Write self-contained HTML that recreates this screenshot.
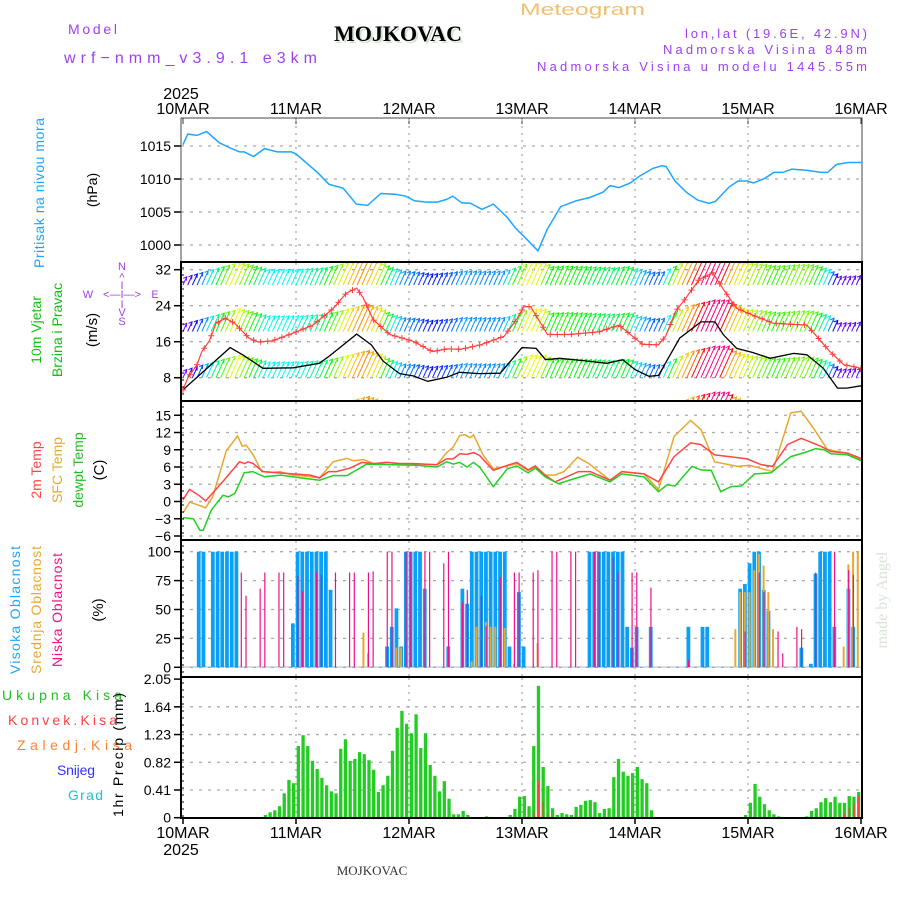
<!DOCTYPE html>
<html><head><meta charset="utf-8"><style>
body{margin:0;background:#fff}
svg{display:block;font-family:"Liberation Sans",sans-serif}
</style></head><body>
<svg id="c" width="900" height="900" viewBox="0 0 900 900" xmlns="http://www.w3.org/2000/svg">
<defs>
<clipPath id="cp1"><rect x="181" y="119" width="681" height="143"/></clipPath>
<clipPath id="cp2"><rect x="181" y="263" width="681" height="137"/></clipPath>
<clipPath id="cp3"><rect x="181" y="402" width="681" height="137"/></clipPath>
</defs>
<text x="520" y="15" font-size="17" fill="#f0c070" textLength="125" lengthAdjust="spacingAndGlyphs">Meteogram</text>
<text x="68" y="34" font-size="14" fill="#a040f0" textLength="49">Model</text>
<text x="400" y="43" font-size="22" font-weight="bold" font-family="Liberation Serif,serif" fill="#cfe3cf" text-anchor="middle">MOJKOVAC</text>
<text x="398" y="41" font-size="22" font-weight="bold" font-family="Liberation Serif,serif" fill="#000" text-anchor="middle">MOJKOVAC</text>
<text x="64" y="63" font-size="16" fill="#a040f0" textLength="253">wrf−nmm_v3.9.1 e3km</text>
<text x="685" y="38" font-size="13" fill="#a040f0" textLength="182">lon,lat (19.6E, 42.9N)</text>
<text x="663" y="54" font-size="13" fill="#a040f0" textLength="204">Nadmorska Visina 848m</text>
<text x="537" y="71" font-size="13" fill="#a040f0" textLength="330">Nadmorska Visina u modelu 1445.55m</text>
<text x="181" y="99" font-size="16" fill="#000" text-anchor="middle">2025</text>
<text x="372" y="875" font-size="13" font-family="Liberation Serif,serif" fill="#333" text-anchor="middle">MOJKOVAC</text>
<text x="181" y="855" font-size="16" fill="#000" text-anchor="middle">2025</text>
<text transform="translate(887,600) rotate(-90)" font-size="16" font-family="Liberation Serif,serif" fill="#d8e4d8" text-anchor="middle">made by Angel</text>
<g id="g"></g>
</svg>
<script>
const dayLabels=["10MAR","11MAR","12MAR","13MAR","14MAR","15MAR","16MAR"];
const presTicks=[1000,1005,1010,1015];
const windTicks=[8,16,24,32];
const tempTicks=[-6,-3,0,3,6,9,12,15];
const cloudTicks=[0,25,50,75,100];
const precTicks=[0,0.41,0.82,1.23,1.64,2.05];

const presH=[0,1,3,5,7.7,10,12,13,15,17.3,20,23,24,28.7,31,34,36.8,39.2,42,45,47.3,49.2,51.6,54,55.9,57.3,59.2,61.1,63.5,65.9,68.7,70.7,73.1,75.4,77.3,80.2,83.5,86.4,89.2,90.7,92.6,95,96.9,99.8,101.7,102.6,104.5,106.9,109.3,111.7,113.1,116,117.9,119.8,121.2,123.6,125.5,127.4,129.3,132.6,135.5,136.9,138.8,141.2,144];
const presV=[1015.2,1016.8,1016.6,1017.2,1015.5,1014.7,1014.1,1014.1,1013.4,1014.6,1014.1,1014.1,1013.8,1010.9,1009.2,1008.6,1006.2,1006.0,1007.8,1007.7,1007.4,1006.7,1006.5,1006.5,1006.9,1007.4,1006.4,1006.3,1005.4,1006.2,1004.3,1002.5,1000.8,999.1,1002.3,1005.8,1006.7,1007.2,1008,1009,1008.7,1009.4,1010.4,1011.6,1012,1011.9,1009.7,1008,1006.8,1006.3,1006.6,1008.8,1009.7,1009.7,1009.4,1010.1,1011,1011,1011.5,1011.3,1011,1011,1012.2,1012.5,1012.5];

const spdH=[0,10,12.8,17,23.4,29,31.2,36.9,40,42.5,46,48.9,52,56,58.7,63,67.4,72,75,77,80,85,90,93.4,96,99,101,105.5,110,113,114.8,117.6,121,124.7,129.7,132.5,136,139,141,144];
const spdV=[5.3,14.7,13,10.1,10.2,11.2,12.9,17.7,15.3,11.7,8.9,8.4,7.2,8.1,9.2,8.9,9.0,14.7,14.5,12.0,12.3,11.8,11.2,12.0,9.8,8.3,8.5,16.8,20.4,20.4,17.5,14.5,13.6,12.3,13.4,13.1,10.1,5.7,5.7,6.2];
const gustH=[0,1,3,4,5.6,7,9,11,14,16,19,23.4,27.6,31.9,34.7,36.9,38.3,40.4,43.9,48.9,53,56,59,63.2,68.2,71,72.4,73.8,76,77.4,82,88.4,92.6,95.5,97.6,101,102.5,104.6,106.8,109.6,112.5,114.8,117.6,121,125.4,132.5,134.6,137.4,140.3,144];
const gustV=[5.3,7.9,10.9,13.8,16.2,20.1,21.2,20.1,16.8,15.9,16.2,17.9,19.7,23.4,26.8,27.9,25.7,20.9,17.6,16.1,13.8,14.4,14.3,15.3,17.2,21.2,23.8,23.8,20.1,17.6,17.6,18.2,19.7,17.2,15.4,15.3,17.2,22.7,25.7,29.8,31.3,27.6,23.4,21.9,20.1,19.7,17.2,13.8,10.9,10.1];

const t2H=[0,1.4,3.5,4.8,6,8.5,12,13.1,13.8,14.9,17,19.8,23.4,27,29,30.9,32.6,35.5,38,40.5,43.3,46,48.9,53.9,56,57.4,58.8,60.3,61.7,63,65.9,68.9,70.9,73.3,74.8,76.9,79,84,86.5,90.7,93.2,97.9,101,104.3,107.8,110,112.9,117.1,119.8,122.8,125.2,128.4,131.3,135.5,137.6,141.2,144];
const t2V=[0.3,2.1,1.0,0.1,1.2,3.5,6.9,6.6,6.9,6.6,5.2,5.0,4.8,4.6,4.1,5.2,5.2,5.8,6.8,6.6,6.8,6.6,6.6,6.4,7.4,7.4,8.3,8.2,8.5,8.0,5.4,6.3,6.8,5.5,6.2,4.6,3.4,5.2,5.2,3.7,5.2,4.8,3.4,7.8,10.2,9.9,8.1,7.7,7.4,6.4,6.1,9.9,11,9.6,8.7,8.4,7.5];
const sfcH=[0,1.4,3.5,4.8,6.3,9.2,11.6,12.6,13.4,14.9,16.7,19.2,20.6,23.4,27,29,31.9,34.8,36.2,38.3,40.5,43.3,46,48.9,53.9,56,57.4,58.8,59.9,61,61.7,63.8,65.9,68.9,70.9,73.3,74.8,76.9,79,80.9,83.8,86.2,90.7,93.2,97.9,101,104.3,107.8,110,112.9,117.8,120.3,125.2,129.1,131.3,134.1,136.9,141.2,144];
const sfcV=[-2,-0.1,-0.7,-1.1,0.8,8.8,11.4,9.6,9.8,8.1,5.2,5.1,5.2,4.6,4.3,4.1,6.9,7.5,7.1,7.3,6.6,6.8,6.6,6.6,6.4,8.5,9.5,11.5,11.6,11.1,11.6,8.0,5.7,6.2,6.6,5.4,6.0,4.6,4.6,5.2,7.7,6.6,3.7,5.2,4.8,2.1,11.3,14.1,12.5,6.9,6.1,6.3,5.2,15.4,15.7,12.5,9.0,8.4,7.3];
const dewH=[0,2.2,3.6,4.3,6,8.5,9.6,11,13,14.8,17.3,20.8,25,29,31.9,34.8,39,44.5,49.6,53.9,56,57.4,58.8,60.3,61.7,63,65.9,68.9,70.9,73.3,74.8,76.9,79.7,84,86.5,90.7,93.2,97.9,101,102.8,104.5,108.1,110,112.2,114.2,116.4,118.6,121.4,124.9,129.1,132,134.4,136.2,137.6,141.2,144];
const dewV=[-2.8,-3.0,-5.0,-5.0,-1.5,1.1,0.8,1.4,5.0,5.2,4.3,4.6,4.1,3.7,4.5,4.5,6.5,6.4,6.3,6.0,6.9,6.5,6.8,6.0,6.8,6.0,2.6,5.7,6.2,5.0,5.8,4.3,3.1,4.2,4.8,3.4,4.8,4.3,1.7,2.9,2.7,6.1,5.5,5.4,1.7,2.6,2.7,4.8,5.0,7.8,8.5,9.2,9.0,8.3,8.1,7.1];

const highHours=[3,4,6,7,8,9,10,11,23,24,25,26,27,28,29,30,31,43,44,45,46,47,48,49,50,51,56,59,60,61,62,63,64,65,66,67,68,69,71,72,86,87,88,89,90,91,92,93,94,95,96,99,107,110,111,118,119,120,121,122,123,124,131,133,134,135,136,137,138,141,142];
const highVals=[100,100,100,100,100,100,100,100,38,100,100,100,100,100,100,100,67,18,35,51,18,100,100,100,100,68,18,68,55,100,100,100,100,100,100,100,100,18,65,18,100,100,100,100,100,100,100,100,35,17,35,35,35,35,35,68,72,90,100,100,67,49,17,3,81,100,100,100,35,68,35];
const midHours=[38,39,45,46,61,62,64,65,66,68,70,75,117,118,119,120,121,122,123,124,125,140,141,142,143];
const midVals=[30,12,17,17,5,35,39,35,35,34,3,21,33,65,65,65,84,98,88,65,33,18,89,100,100];
const lowHours=[12,13,16,17,20,21,24,25,28,29,32,35,36,39,40,43,44,47,48,51,52,55,56,59,60,63,64,67,70,71,74,75,78,79,82,83,87,88,91,92,95,96,99,107,119,122,123,126,127,130,131,134,138,141,142];
const lowVals=[82,62,68,82,82,82,79,66,82,80,82,82,82,82,83,100,100,100,100,100,100,90,100,56,67,62,36,78,82,82,82,84,100,100,100,100,100,100,95,82,82,82,69,6,31,82,65,31,12,35,33,82,100,84,80];

const precHours=[18,19,20,21,22,23,24,25,26,27,28,29,30,31,32,33,34,35,36,37,38,39,40,41,42,43,44,45,46,47,48,49,50,51,52,53,54,55,56,57,58,59,60,61,65,70,71,72,73,74,75,76,77,78,79,80,81,82,83,84,85,86,87,88,89,90,91,92,93,94,95,96,97,98,99,100,120,121,122,123,124,125,126,127,133,134,135,136,137,138,139,140,141,142,143,144];
const precVals=[0.04,0.08,0.11,0.17,0.36,0.56,0.51,1.06,1.22,1.06,0.84,0.72,0.59,0.48,0.39,0.36,1.02,1.16,0.84,0.87,0.97,0.94,0.85,0.71,0.38,0.48,0.62,0.99,1.33,1.58,1.39,1.25,1.53,1.03,1.25,0.78,0.62,0.39,0.54,0.28,0.05,0.05,0.10,0.04,0.02,0.04,0.13,0.31,0.32,0.17,1.06,1.95,0.75,0.47,0.14,0.04,0.07,0.05,0.04,0.16,0.19,0.25,0.26,0.23,0.07,0.13,0.14,0.60,0.87,0.68,0.62,0.66,0.75,0.57,0.51,0.11,0.04,0.22,0.50,0.31,0.20,0.11,0.05,0.02,0.02,0.10,0.14,0.23,0.29,0.23,0.31,0.22,0.22,0.32,0.31,0.38];
const convHours=[41,50,75,76,77,78,141,142,143,144];
const convVals=[0.02,0.02,0.08,0.54,0.23,0.05,0.05,0.14,0.20,0.32];

const NS="http://www.w3.org/2000/svg";
const G=document.getElementById('g');
function el(tag,attrs,parent){const e=document.createElementNS(NS,tag);for(const k in attrs)e.setAttribute(k,attrs[k]);(parent||G).appendChild(e);return e;}
function txt(x,y,s,attrs,parent){const e=el('text',Object.assign({x:x,y:y},attrs),parent);e.textContent=s;return e;}
const X=h=>183+h*113/24;
const yP=p=>146+(1015-p)*6.6;
const yW=v=>377.7-(v-8)*4.5;
const yT=t=>501.5-t*5.75;
const yC=c=>667.3-c*1.156;
const yR=r=>817.7-r*67.6;
const L=181,R=862;

function grid(top,bot,ticks,fy,name,fmt){
  const g=el('g',{});
  
  
  for(let d=1;d<6;d++) el('line',{x1:X(d*24),x2:X(d*24),y1:top,y2:bot,stroke:'#aaa','stroke-width':1.3,'stroke-dasharray':'2,5'},g);
  ticks.forEach(t=>{
    const y=fy(t);
    if(y>top+2&&y<bot-2) el('line',{x1:L,x2:R,y1:y,y2:y,stroke:'#aaa','stroke-width':1.3,'stroke-dasharray':'3,6'},g);
    el('line',{x1:L-7,x2:L,y1:y,y2:y,stroke:'#000','stroke-width':1.5},g);
    const tl=txt(L-10,y+5,fmt?fmt(t):String(t),{'font-size':14,'text-anchor':'end',fill:'#000'},g);
    
    
  });
}
function frame(top,bot,name,thin){
  const f=el('rect',{x:L,y:top,width:R-L,height:bot-top,fill:'none',stroke:thin?'#444':'#000','stroke-width':thin?1:2});
  
  
  if(!thin){for(let y=top+6;y<bot;y+=7) el('line',{x1:L,x2:L+3,y1:y,y2:y,stroke:'#000','stroke-width':1});}
}
function line(hs,vs,fy,color,name,clip,w){
  const p=el('polyline',{points:hs.map((h,i)=>X(h).toFixed(1)+','+fy(vs[i]).toFixed(1)).join(' '),fill:'none',stroke:color,'stroke-width':w||1.5,'clip-path':clip?'url(#'+clip+')':''});
  
  
  return p;
}
function rot(x,y,s,color,name,size,len){
  const a={transform:'translate('+x+','+y+') rotate(-90)','font-size':size||14,fill:color,'text-anchor':'middle'};
  if(len){a.textLength=len;}
  const t=txt(0,0,s,a);
  
  
}
function interp(hs,vs,h){for(let i=1;i<hs.length;i++){if(h<=hs[i]){const f=(h-hs[i-1])/(hs[i]-hs[i-1]);return vs[i-1]+f*(vs[i]-vs[i-1]);}}return vs[vs.length-1];}

dayLabels.forEach((d,i)=>{
  const a=txt(X(i*24),114,d,{'font-size':16,'text-anchor':'middle',fill:'#000'});
  
  
  const b=txt(X(i*24),838,d,{'font-size':16,'text-anchor':'middle',fill:'#000'});
  
  
  el('line',{x1:X(i*24),x2:X(i*24),y1:118,y2:124,stroke:'#333'});
  el('line',{x1:X(i*24),x2:X(i*24),y1:818,y2:824,stroke:'#000','stroke-width':1.5});
});

grid(119,262,presTicks,yP,'pressure');
frame(118,262,'pressure',true);
line(presH,presV,yP,'#1ea5ff','pressure-line','cp1');
rot(44,193,'Pritisak na nivou mora','#1ea5ff','pressure-title',14,150);
rot(97,190,'(hPa)','#000','pressure-unit');

grid(263,400,windTicks,yW,'wind');
function hueFor(s){const ks=[5,8,10,12,15,17.5,20],hs=[275,225,185,120,55,35,-30];let h=interp(ks,hs,s);if(h<0)h+=360;return 'hsl('+h.toFixed(0)+',95%,50%)';}
const arrows=el('g',{'clip-path':'url(#cp2)'});


[285,331.5,377.7,423.7].forEach(base=>{
  for(let h=0;h<=144;h++){
    const s=interp(spdH,spdV,h);
    const dy=1.55*s, dx=0.45*dy;
    const x0=X(h),x1=x0+dx,y1=base-dy,c=hueFor(s);
    el('line',{x1:x0,y1:base,x2:x1,y2:y1,stroke:c,'stroke-width':1},arrows);
    el('polyline',{points:(x1-3.5)+','+(y1+1.5)+' '+x1+','+y1+' '+(x1-0.5)+','+(y1+4),fill:'none',stroke:c,'stroke-width':1},arrows);
  }
});
line(spdH,spdV,yW,'#000','wind-speed-line','cp2',1.3);
line(gustH,gustV,yW,'#ff4040','wind-gust-line','cp2',1.2);
const gm=el('g',{'clip-path':'url(#cp2)'});


for(let h=0;h<=144;h+=1.5){const x=X(h),y=yW(interp(gustH,gustV,h));el('path',{d:'M'+(x-3)+','+y+'h6M'+x+','+(y-3)+'v6',stroke:'#ff4040','stroke-width':1},gm);}
frame(262,401,'wind');
rot(41,330,'10m Vjetar','#10c010','wind-title1');
rot(62,330,'Brzina i Pravac','#10c010','wind-title2');
rot(97,330,'(m/s)','#000','wind-unit',15);
const cmp=el('g',{fill:'#a040f0','font-size':11,'text-anchor':'middle'});


txt(122,270,'N',{},cmp);txt(122,281,'^',{},cmp);txt(122,289,'I',{},cmp);
txt(88,298,'W',{},cmp);txt(122,298,'<—I—>',{},cmp);txt(155,298,'E',{},cmp);
txt(122,308,'I',{},cmp);txt(122,316,'V',{},cmp);txt(122,325,'S',{},cmp);

grid(402,539,tempTicks,yT,'temperature',t=>t<0?'−'+(-t):String(t));
line(sfcH,sfcV,yT,'#e8a830','sfc-temp-line','cp3');
line(t2H,t2V,yT,'#ff4545','temp-2m-line','cp3');
line(dewH,dewV,yT,'#22d022','dewpoint-line','cp3');
frame(401,540,'temperature');
rot(41,470,'2m Temp','#ff4545','temp-title');
rot(62,470,'SFC Temp','#e8a830','sfc-title');
rot(83,470,'dewpt Temp','#22c022','dewpt-title');
rot(104,470,'(C)','#000','temp-unit',15);

grid(541,676,cloudTicks,yC,'cloud');
const cg=el('g',{});


el('line',{x1:L,x2:R,y1:667,y2:667,stroke:'#9ab',opacity:0.8},cg);
highHours.forEach((h,i)=>{const b=el('rect',{x:X(h)-0.3,y:yC(highVals[i]),width:3.8,height:yC(0)-yC(highVals[i]),fill:'#0aa0f5'},cg);});
midHours.forEach((h,i)=>{const b=el('rect',{x:X(h)+0.5,y:yC(midVals[i]),width:2,height:yC(0)-yC(midVals[i]),fill:'#e8a830'},cg);});
lowHours.forEach((h,i)=>{const b=el('rect',{x:X(h)+1.2,y:yC(lowVals[i]),width:1.2,height:yC(0)-yC(lowVals[i]),fill:'#f0108a'},cg);});
frame(540,677,'cloud');
rot(20,610,'Visoka Oblacnost','#1ea5ff','high-cloud-title',14,128);
rot(41,610,'Srednja Oblacnost','#e8a830','mid-cloud-title',14,128);
rot(62,610,'Niska Oblacnost','#f0108a','low-cloud-title',14,114);
rot(103,610,'(%)','#000','cloud-unit',15);

grid(678,817,precTicks,yR,'precip',t=>t===0?'0':t.toFixed(2));
const pg=el('g',{});


precHours.forEach((h,i)=>{const b=el('rect',{x:X(h)-4,y:yR(precVals[i]),width:3.3,height:yR(0)-yR(precVals[i]),fill:'#22cc22'},pg);});
convHours.forEach((h,i)=>{const b=el('rect',{x:X(h)-3,y:yR(convVals[i]),width:1.5,height:yR(0)-yR(convVals[i]),fill:'#ff4040'},pg);});
frame(677,818,'precip');
[['Ukupna Kisa','#22c022',700,2,120],['Konvek.Kisa','#ff4040',725,8,109],['Zaledj.Kisa','#ff8030',750,17,115],['Snijeg','#3030ff',775,57,38],['Grad','#20c0d0',800,68,35]].forEach(a=>{
  const t=txt(a[3],a[2],a[0],{'font-size':14,fill:a[1],textLength:a[4]});
  
  
});
rot(123,755,'1hr Precip (mm)','#000','precip-unit',14,124);
</script>
</body></html>
